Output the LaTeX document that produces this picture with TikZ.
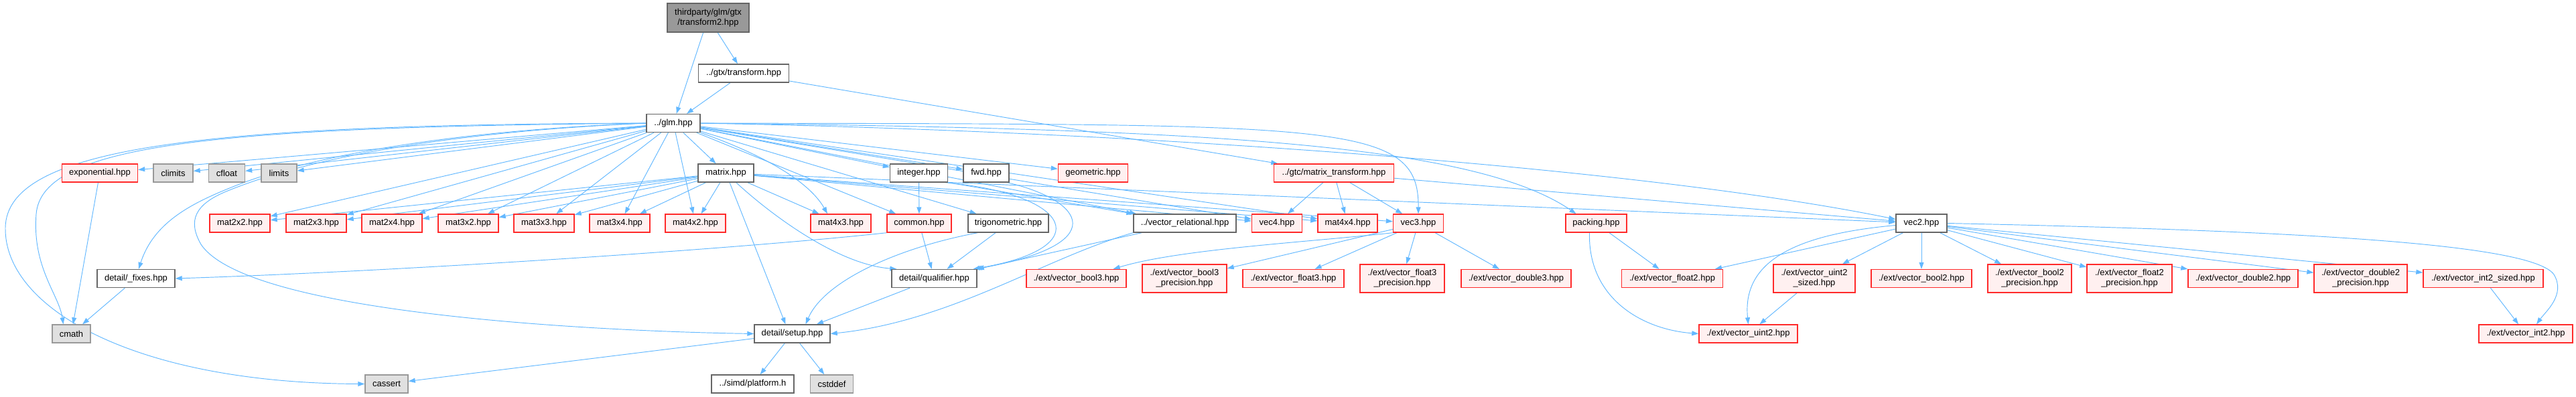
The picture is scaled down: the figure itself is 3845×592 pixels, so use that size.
\documentclass[tikz,border=0pt]{standalone}
\usepackage{fontspec}
\setmainfont{Liberation Sans}
\usetikzlibrary{arrows.meta,backgrounds}
\definecolor{edgec}{HTML}{63B8FF}
\definecolor{brd}{HTML}{666666}
\definecolor{rootf}{HTML}{999999}
\definecolor{sysf}{HTML}{E0E0E0}
\definecolor{sysd}{HTML}{999999}
\definecolor{redf}{HTML}{FFF0F0}
\definecolor{redd}{HTML}{FF2A2A}
\begin{document}
\begin{tikzpicture}[x=1pt,y=-1pt,
 gbox/.style={draw, line width=1.4pt, inner sep=0pt, minimum height=27pt, font=\fontsize{13}{15}\selectfont, align=center},
 wn/.style={gbox, draw=brd, fill=white},
 rn/.style={gbox, draw=redd, fill=redf},
 sn/.style={gbox, draw=sysd, fill=sysf},
 rt/.style={gbox, draw=brd, fill=rootf},
 edg/.style={draw=edgec, line width=0.95pt, -{Triangle[length=10pt,width=7pt]}},
]
\useasboundingbox (0,0) rectangle (3845,592);
% nodes
\node[rt,minimum width=122pt,minimum height=43pt] (root) at (1057,26.5) {thirdparty/glm/gtx\\/transform2.hpp};
\node[wn,minimum width=135pt] (gtxt) at (1110,109.5) {../gtx/transform.hpp};
\node[wn,minimum width=80pt] (glm) at (1005,184) {../glm.hpp};
\node[rn,minimum width=113pt] (expo) at (149,258.5) {exponential.hpp};
\node[sn,minimum width=59pt] (climits) at (258.5,258.5) {climits};
\node[sn,minimum width=54pt] (cfloat) at (338.5,258.5) {cfloat};
\node[sn,minimum width=53pt] (limits) at (416.5,258.5) {limits};
\node[wn,minimum width=83pt] (matrix) at (1083.5,258.5) {matrix.hpp};
\node[wn,minimum width=86pt] (integer) at (1371.5,258.5) {integer.hpp};
\node[wn,minimum width=68pt] (fwd) at (1472,258.5) {fwd.hpp};
\node[rn,minimum width=104pt] (geom) at (1631.5,258.5) {geometric.hpp};
\node[rn,minimum width=179pt] (gtcmt) at (1991,258.5) {../gtc/matrix\_transform.hpp};
\node[rn,minimum width=90pt] (m22) at (358,333.5) {mat2x2.hpp};
\node[rn,minimum width=90pt] (m23) at (472,333.5) {mat2x3.hpp};
\node[rn,minimum width=90pt] (m24) at (585,333.5) {mat2x4.hpp};
\node[rn,minimum width=90pt] (m32) at (699,333.5) {mat3x2.hpp};
\node[rn,minimum width=90pt] (m33) at (812,333.5) {mat3x3.hpp};
\node[rn,minimum width=90pt] (m34) at (925,333.5) {mat3x4.hpp};
\node[rn,minimum width=90pt] (m42) at (1038,333.5) {mat4x2.hpp};
\node[rn,minimum width=90pt] (m43) at (1255,333.5) {mat4x3.hpp};
\node[rn,minimum width=96pt] (common) at (1372,333.5) {common.hpp};
\node[wn,minimum width=120pt] (trig) at (1505,333.5) {trigonometric.hpp};
\node[wn,minimum width=153pt] (vecrel) at (1768.5,333.5) {../vector\_relational.hpp};
\node[rn,minimum width=75pt] (vec4) at (1906,333.5) {vec4.hpp};
\node[rn,minimum width=89pt] (m44) at (2011.5,333.5) {mat4x4.hpp};
\node[rn,minimum width=75pt] (vec3) at (2117,333.5) {vec3.hpp};
\node[rn,minimum width=91pt] (packing) at (2382.5,333.5) {packing.hpp};
\node[wn,minimum width=76pt] (vec2) at (2868,333.5) {vec2.hpp};
\node[wn,minimum width=116pt] (fixes) at (203,416) {detail/\_fixes.hpp};
\node[wn,minimum width=127pt] (qual) at (1394.5,416) {detail/qualifier.hpp};
\node[rn,minimum width=149pt] (vb3) at (1606.5,416) {./ext/vector\_bool3.hpp};
\node[rn,minimum width=126pt,minimum height=42pt] (vb3p) at (1768,416) {./ext/vector\_bool3\\\_precision.hpp};
\node[rn,minimum width=151pt] (vf3) at (1930.5,416) {./ext/vector\_float3.hpp};
\node[rn,minimum width=126pt,minimum height=42pt] (vf3p) at (2093,416) {./ext/vector\_float3\\\_precision.hpp};
\node[rn,minimum width=164pt] (vd3) at (2263,416) {./ext/vector\_double3.hpp};
\node[rn,minimum width=151pt] (vf2) at (2496,416) {./ext/vector\_float2.hpp};
\node[rn,minimum width=122pt,minimum height=42pt] (vu2s) at (2708,416) {./ext/vector\_uint2\\\_sized.hpp};
\node[rn,minimum width=150pt] (vb2) at (2868,416) {./ext/vector\_bool2.hpp};
\node[rn,minimum width=125pt,minimum height=42pt] (vb2p) at (3029.5,416) {./ext/vector\_bool2\\\_precision.hpp};
\node[rn,minimum width=127pt,minimum height=42pt] (vf2p) at (3178.5,416) {./ext/vector\_float2\\\_precision.hpp};
\node[rn,minimum width=164pt] (vd2) at (3348,416) {./ext/vector\_double2.hpp};
\node[rn,minimum width=139pt,minimum height=42pt] (vd2p) at (3523.5,416) {./ext/vector\_double2\\\_precision.hpp};
\node[rn,minimum width=179pt] (vi2s) at (3706.5,416) {./ext/vector\_int2\_sized.hpp};
\node[sn,minimum width=57pt] (cmath) at (106.5,498.5) {cmath};
\node[wn,minimum width=113pt] (setup) at (1182.5,498.5) {detail/setup.hpp};
\node[rn,minimum width=147pt] (vu2) at (2609.5,498.5) {./ext/vector\_uint2.hpp};
\node[rn,minimum width=140pt] (vi2) at (3770,498.5) {./ext/vector\_int2.hpp};
\node[sn,minimum width=64pt] (cassert) at (577,573.5) {cassert};
\node[wn,minimum width=123pt] (platform) at (1123.5,573.5) {../simd/platform.h};
\node[sn,minimum width=64pt] (cstddef) at (1241.5,573.5) {cstddef};
% edges
\begin{scope}[on background layer]
\draw[edg] (root) -- (glm);
\draw[edg] (root) -- (gtxt);
\draw[edg] (gtxt) -- (glm);
\draw[edg] (gtxt) -- (gtcmt);
\foreach \t in {expo,climits,cfloat,limits,m22,m23,m24,m32,m33,m34,m42,matrix,integer,fwd,geom,common,trig,vecrel,vec4,m44}
  \draw[edg] (glm) -- (\t);
\draw[edg] (glm.west) .. controls (300,186) and (10,220) .. (8,340) .. controls (6,460) and (200,572) .. (cassert.west);
\draw[edg] (glm.west) .. controls (320,190) and (62,215) .. (54,320) .. controls (48,400) and (88,440) .. ([xshift=-12pt]cmath.north);
\draw[edg] (glm.west) .. controls (650,196) and (450,238) .. (350,278) .. controls (290,302) and (230,330) .. ([xshift=4pt]fixes.north);
\draw[edg] (glm.west) .. controls (650,198) and (450,240) .. (340,285) .. controls (290,305) and (280,330) .. (300,365) .. controls (370,470) and (900,495) .. (setup.west);
\draw[edg] (glm.south east) .. controls (1150,235) and (1210,275) .. ([xshift=-20pt]m43.north);
\draw[edg] (glm.east) .. controls (1800,192) and (2200,215) .. ([xshift=-30pt]packing.north);
\draw[edg] (glm.east) .. controls (2000,186) and (2118,180) .. (vec3.north);
\draw[edg] (glm.east) .. controls (1700,196) and (2450,250) .. ([yshift=6pt]vec2.west);
\foreach \t in {m22,m23,m24,m32,m33,m34,m42,m43,vec4,m44,vec3,vec2}
  \draw[edg] (matrix) -- (\t);
\draw[edg] (matrix) .. controls (1150,320) and (1250,395) .. ([xshift=8pt]qual.north west);
\draw[edg] (matrix) -- ([xshift=-10pt]setup.north);
\draw[edg] (integer) -- (common);
\draw[edg] (integer.south east) -- (vecrel.north west);
\draw[edg] ([xshift=-4pt]integer.south east) .. controls (1600,290) and (1640,370) .. ([xshift=-6pt]qual.north east);
\draw[edg] ([xshift=-3pt]fwd.south east) .. controls (1620,300) and (1660,365) .. ([xshift=-3pt]qual.north east);
\draw[edg] (common) -- (qual);
\draw[edg] (common.south west) .. controls (1100,372) and (600,405) .. (fixes.east);
\draw[edg] (trig) -- (qual);
\draw[edg] ([xshift=15pt]trig.south west) .. controls (1340,370) and (1230,420) .. ([xshift=20pt]setup.north);
\draw[edg] (vecrel) -- (qual);
\draw[edg] (vecrel.south west) .. controls (1560,385) and (1420,480) .. (setup.east);
\draw[edg] (qual) -- (setup);
\draw[edg] (setup) -- (cassert);
\draw[edg] (setup) -- (platform);
\draw[edg] (setup) -- (cstddef);
\draw[edg] (expo) -- (cmath);
\draw[edg] (fixes) -- (cmath);
\foreach \t in {vec4,m44,vec3,vec2}
  \draw[edg] (gtcmt) -- (\t);
\draw[edg] (vec3.south west) .. controls (1950,362) and (1760,372) .. ([xshift=-20pt]vb3.north east);
\foreach \t in {vb3p,vf3,vf3p,vd3}
  \draw[edg] (vec3) -- (\t);
\foreach \t in {vf2,vu2s,vb2,vb2p,vf2p,vd2,vd2p,vi2s}
  \draw[edg] (vec2) -- (\t);
\draw[edg] ([yshift=-3pt]vec2.west) .. controls (2680,350) and (2600,390) .. (vu2.north);
\draw[edg] (vec2.east) .. controls (3450,345) and (3780,365) .. (3812,410) .. controls (3830,440) and (3800,465) .. ([xshift=16pt]vi2.north);
\draw[edg] (packing) -- (vf2);
\draw[edg] ([xshift=-10pt]packing.south) .. controls (2370,445) and (2450,492) .. (vu2.west);
\draw[edg] (vu2s) -- (vu2);
\draw[edg] (vi2s) -- (vi2);
\end{scope}
\end{tikzpicture}
\end{document}
